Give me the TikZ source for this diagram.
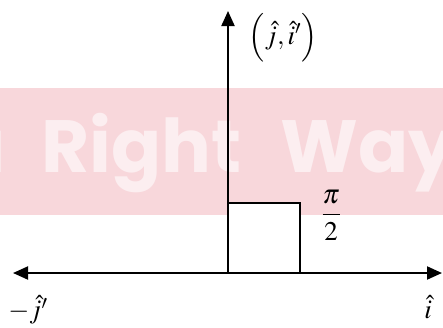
\documentclass[tikz,border=0pt]{standalone}
\usepackage{mathptmx}
\usepackage{fontspec}
\newfontfamily\wmfont{Poppins}[BoldFont={* Bold}]
\usetikzlibrary{arrows.meta}
\definecolor{bandpink}{RGB}{248,215,219}
\definecolor{wmtext}{RGB}{252,238,240}
\tikzset{
  axis/.style={line width=2pt,-{Triangle[length=15pt,width=13pt]}},
  lbl/.style={inner sep=0pt,font=\fontsize{27}{31}\selectfont},
  wm/.style={inner sep=0pt,text=wmtext,font=\wmfont\bfseries\fontsize{74}{84}\selectfont}
}
\begin{document}
\begin{tikzpicture}[x=1pt,y=-1pt]
\useasboundingbox (0,0) rectangle (443,327);
% watermark
\fill[bandpink] (0,88) rectangle (443,215);
\node[wm,anchor=base west] (wmR) at (41,172) {Right};
\node[wm,anchor=base west] (wmW) at (280,172) {Way};
\node[wm,anchor=base east] (wma) at (6,172) {a};
% geometry
\coordinate (O) at (228,273);
\coordinate (L) at (13,273);
\coordinate (R) at (442,273);
\coordinate (T) at (228,11);
\draw[fill=white,line width=1.5pt] (O) rectangle (300,203);
\draw[axis] (O) -- (L);
\draw[axis] (O) -- (R);
\draw[axis] (O) -- (T);
\node[lbl] (ji) at (283,38) {$\Bigl(\hat{j},\hat{i}'\Bigr)$};
\node[lbl] (pi2) at (331,215) {$\displaystyle\frac{\pi}{2}$};
\node[lbl] (mj) at (28,310) {$-\hat{j}'$};
\node[lbl] (ih) at (428,307) {$\hat{i}$};
\end{tikzpicture}
\end{document}
